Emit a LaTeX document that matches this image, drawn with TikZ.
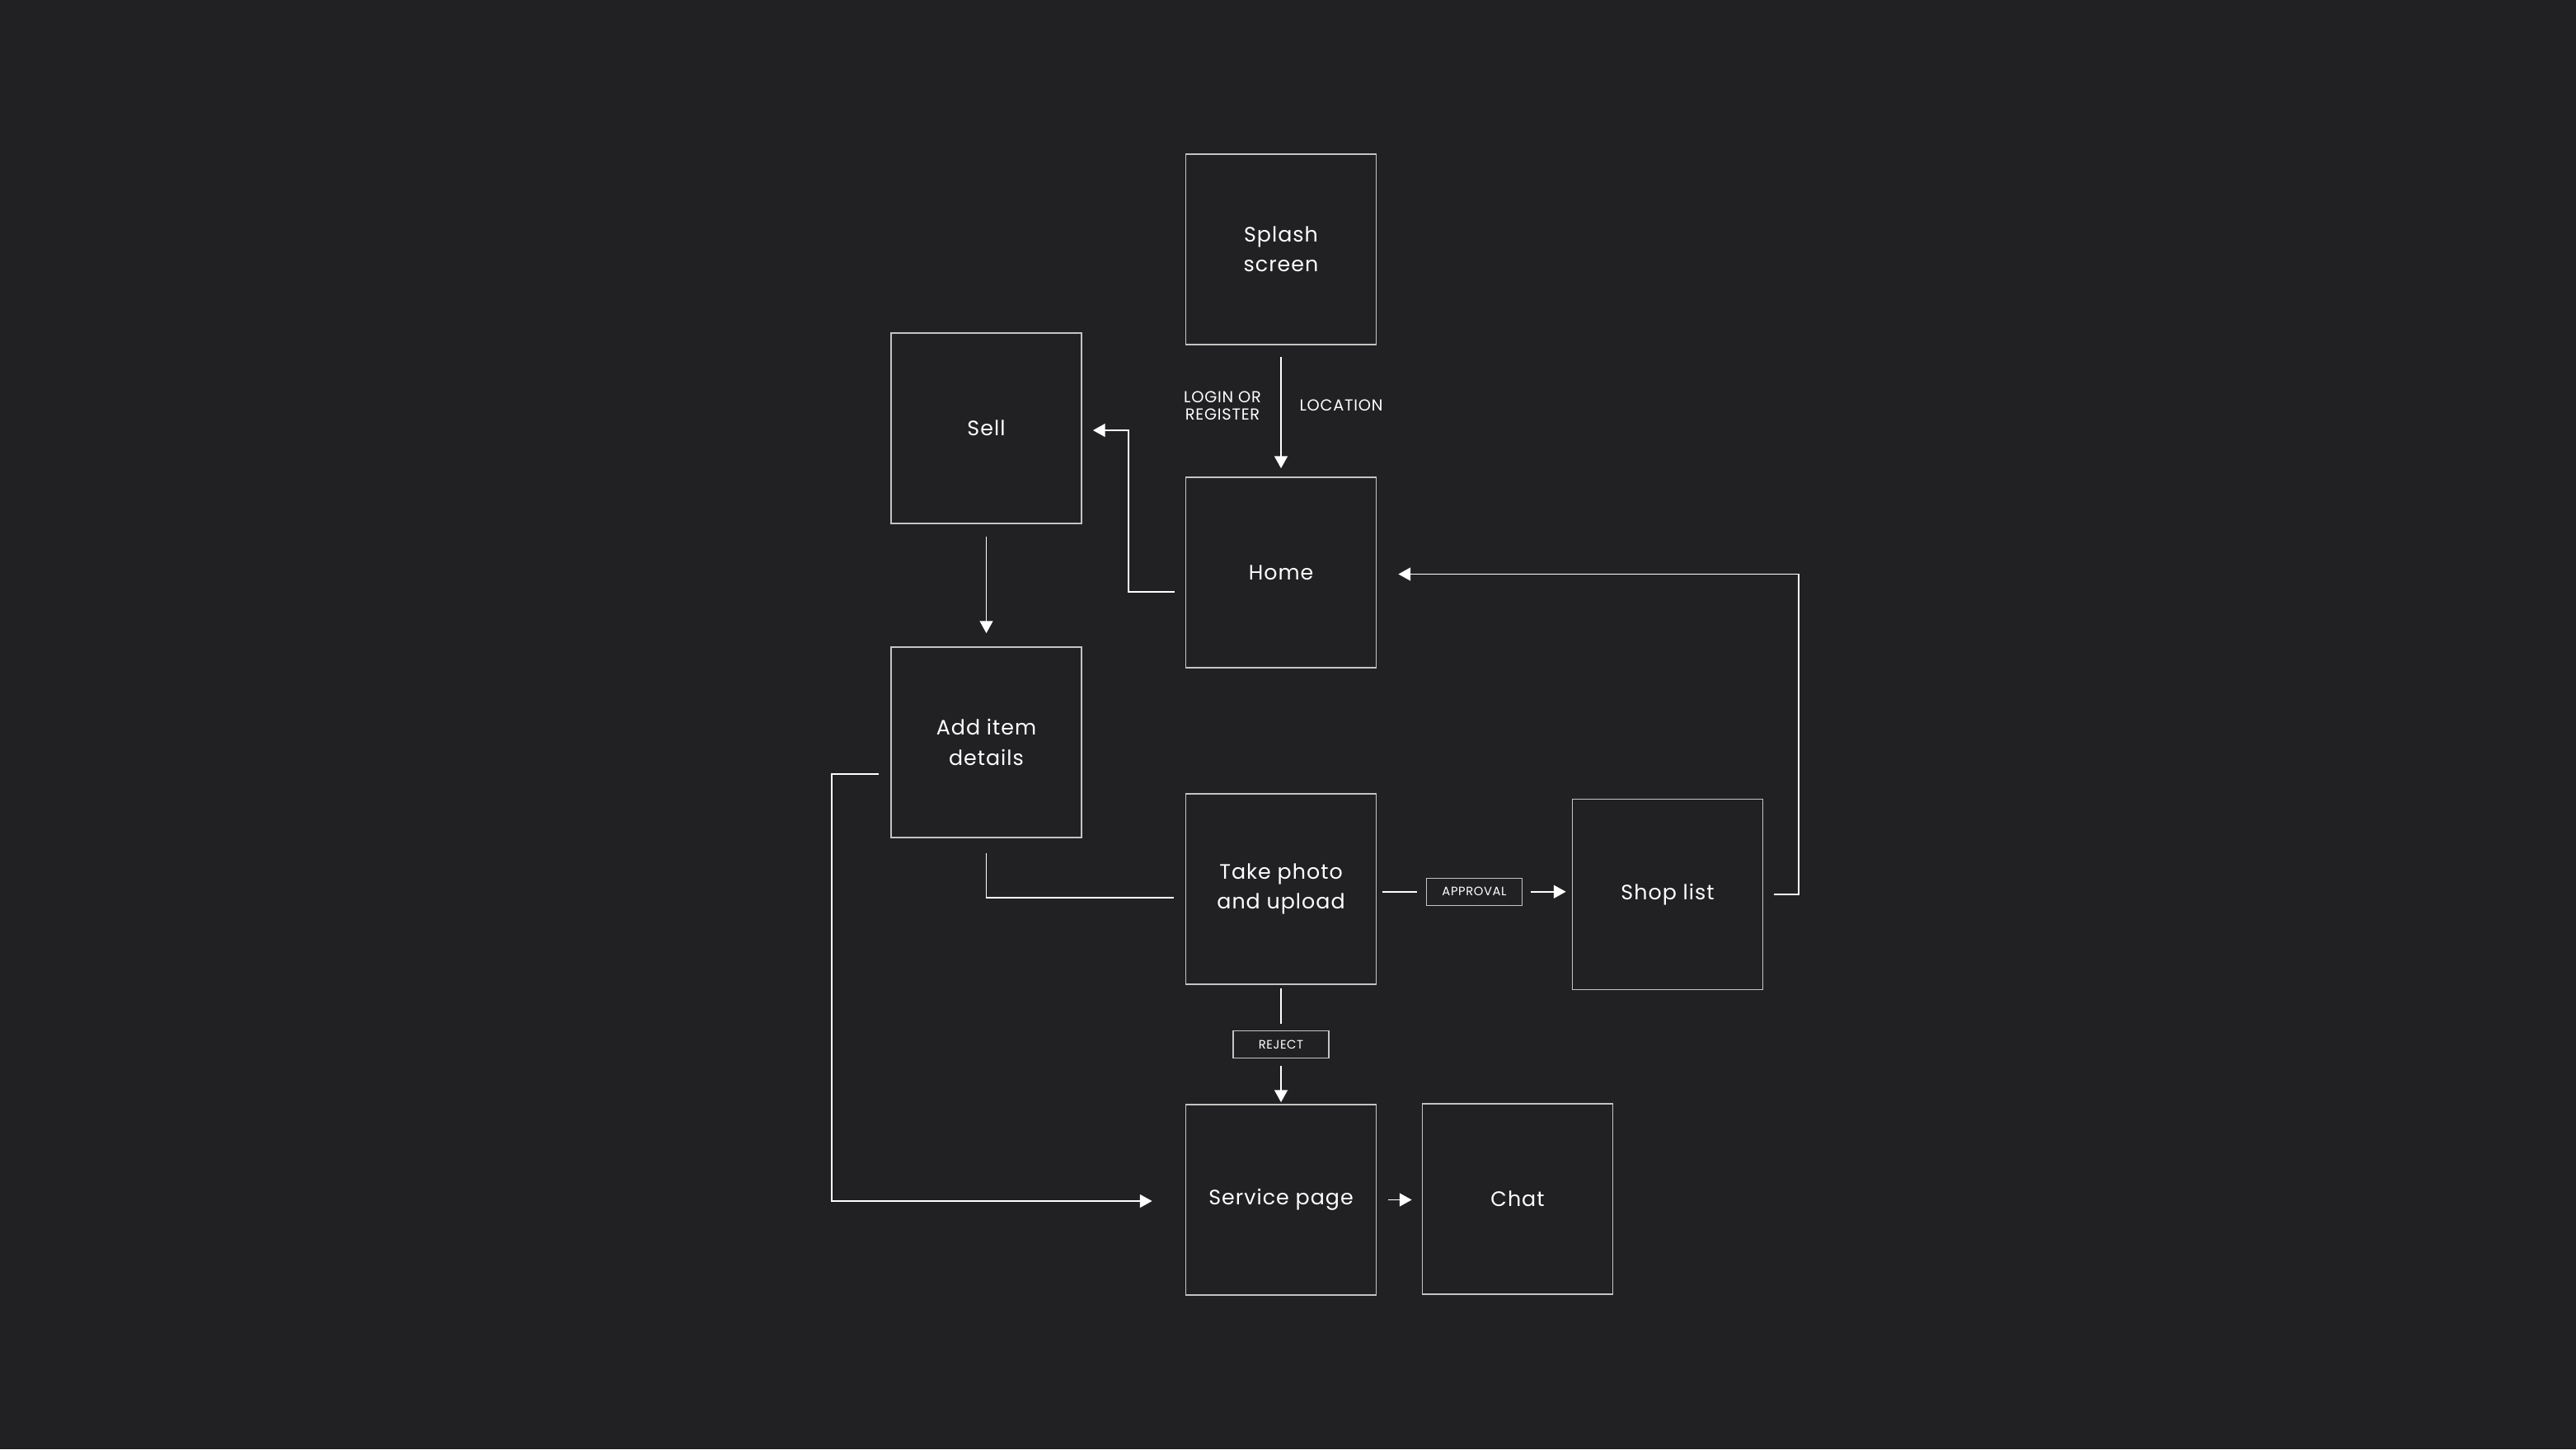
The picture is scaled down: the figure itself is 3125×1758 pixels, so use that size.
\documentclass[tikz,border=0pt]{standalone}
\usepackage{fontspec}
\setmainfont{Poppins}[LetterSpace=4]
\usetikzlibrary{arrows.meta,calc}
\definecolor{bg}{HTML}{212123}
\definecolor{edgec}{HTML}{C4C4C4}
\begin{document}
\begin{tikzpicture}[x=0.01cm,y=-0.01cm,
  screen/.style={draw=edgec, line width=0.45pt, minimum width=2.31cm, minimum height=2.31cm, inner sep=0pt, text=white, align=center, font=\fontsize{7.2}{10.3}\selectfont},
  tag/.style={draw=edgec, line width=0.4pt, minimum width=1.16cm, minimum height=0.33cm, inner sep=0pt, text=white, font=\fontsize{4.2}{5}\selectfont},
  note/.style={text=white, align=center, inner sep=0pt, font=\fontsize{5.5}{6}\selectfont},
  link/.style={draw=white, line width=0.55pt},
  arr/.style={link, -{Triangle[width=4.5pt,length=4.2pt]}}]
\fill[bg] (0,0) rectangle (3125,1758);
\useasboundingbox (0,0) rectangle (3125,1758);

\node[screen] (splash) at (1554,302.5) {Splash\\screen};
\node[screen] (sell) at (1196.5,519.5) {Sell};
\node[screen] (home) at (1554,694.5) {Home};
\node[screen] (additem) at (1196.5,900.5) {Add item\\details};
\node[screen] (photo) at (1554,1078.5) {Take photo\\and upload};
\node[screen] (shop) at (2023,1085) {Shop list};
\node[screen] (service) at (1554,1455.5) {Service page};
\node[screen] (chat) at (1841,1454.5) {Chat};

\node[note] (login) at (1483,492) {LOGIN OR\\REGISTER};
\node[note] (location) at (1627,492) {LOCATION};

\node[tag] (approval) at ($(photo.east)!0.5!(shop.west)$) {APPROVAL};
\node[tag] (reject) at ($(photo.south)!0.5!(service.north)$) {REJECT};

% splash -> home
\draw[arr, shorten <=0.14cm, shorten >=0.10cm] (splash) -- (home);
% home -> sell
\draw[arr] ($(home.west)+(-13,23.5)$) -- ++(-56,0) |- ($(sell.east)+(13,2.5)$);
% sell -> add item
\draw[arr, shorten <=0.15cm, shorten >=0.16cm] (sell) -- (additem);
% take photo -> add item (no head)
\draw[link] ($(photo.west)+(-14,10.5)$) -| ($(additem.south)+(0,18)$);
% add item -> service page
\draw[arr] ($(additem.west)+(-14,38.5)$) -- ++(-57,0) |- ($(service.west)+(-40,1.5)$);
% take photo -> approval -> shop list
\draw[link, shorten <=0.07cm, shorten >=0.11cm] (photo.east |- approval) -- (approval.west);
\draw[arr, shorten <=0.10cm, shorten >=0.07cm] (approval.east) -- (approval -| shop.west);
% shop list -> home
\draw[arr] ($(shop.east)+(13,0)$) -- ++(30,0) |- ($(home.east)+(26,2)$);
% take photo -> reject -> service page
\draw[link, shorten <=0.04cm, shorten >=0.08cm] (photo.south) -- (reject.north);
\draw[arr, shorten <=0.09cm, shorten >=0.02cm] (reject.south) -- (service.north);
% service page -> chat
\draw[arr, shorten <=0.14cm, shorten >=0.12cm] (service.east) -- (service.east -| chat.west);
\end{tikzpicture}
\end{document}
